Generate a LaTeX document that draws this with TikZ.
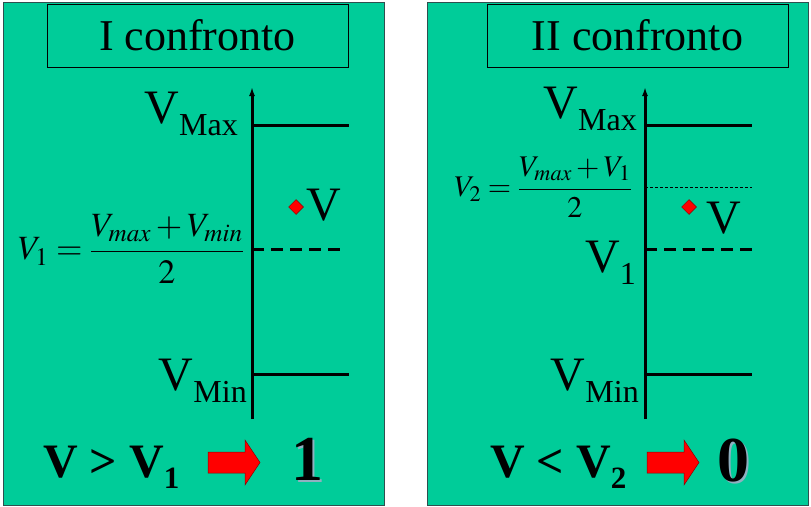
\documentclass[tikz,border=0pt]{standalone}
\usepackage{mathptmx}
\usepackage{fontspec}
\setmainfont{Liberation Serif}
\usepackage{graphicx}
\usetikzlibrary{arrows.meta,positioning,shapes.geometric}
\definecolor{Panel}{HTML}{00CC99}
\definecolor{Frame}{HTML}{2F4F4F}
\definecolor{Mark}{HTML}{FF0000}
\definecolor{MarkLine}{HTML}{8B0000}
\definecolor{Shade}{HTML}{8FB0C0}
\newcommand\vlab[1]{{\fontsize{48}{50}\selectfont V}\raisebox{-12pt}{\fontsize{32}{34}\selectfont #1}}
\newcommand\vbig[2]{V #1 V\raisebox{-11pt}{\fontsize{31}{33}\selectfont #2}}
\newcommand\shaded[1]{\rlap{\hspace{2pt}\raisebox{-2pt}{\color{Shade}#1}}#1}
\tikzset{
  panel/.style={draw=Frame,fill=Panel,line width=1pt,minimum width=381pt,minimum height=503pt,inner sep=0pt},
  heading/.style={draw=black,line width=0.8pt,minimum width=301pt,minimum height=63pt,font=\fontsize{44}{48}\selectfont},
  axis/.style={line width=3pt,-{Latex[length=9pt,width=6pt]}},
  level/.style={line width=3pt},
  midlevel/.style={line width=3pt,dash pattern=on 12pt off 7pt},
  guide/.style={line width=0.6pt,dash pattern=on 3pt off 2pt},
  marker/.style={diamond,draw=MarkLine,fill=Mark,line width=0.5pt,minimum size=15pt,inner sep=0pt},
  vlabel/.style={anchor=base east,inner sep=0pt},
  vpoint/.style={anchor=base west,inner sep=0pt,font=\fontsize{48}{50}\selectfont},
  formula/.style={anchor=east,inner sep=0pt},
  result/.style={anchor=base west,inner sep=0pt,font=\fontsize{48}{50}\selectfont\bfseries},
  bit/.style={anchor=base,inner sep=0pt,font=\fontsize{64}{66}\selectfont\bfseries},
  bigarrow/.style={draw=MarkLine,fill=Mark,line width=0.5pt}
}
\begin{document}
\begin{tikzpicture}[x=1pt,y=-1pt]
  \useasboundingbox (0,0) rectangle (811,506);
  % panels
  \node[panel] (panelA) at (193.5,253.5) {};
  \node[panel] (panelB) at (618,253.5) {};
  \node[heading] (titleA) at (197.5,35.5) {I confronto};
  \node[heading] (titleB) at (637.5,35.5) {II confronto};

  % first comparison
  \coordinate (axA0) at (252,419);
  \coordinate (axA1) at (252,87);
  \coordinate (maxA) at (252,125);
  \coordinate (maxAend) at (349,125);
  \coordinate (midA) at (252,249);
  \coordinate (midAend) at (343,249);
  \coordinate (minA) at (252,374);
  \coordinate (minAend) at (349,374);
  \draw[axis] (axA0) -- (axA1);
  \draw[level] (maxA) -- (maxAend);
  \draw[midlevel] (midA) -- (midAend);
  \draw[level] (minA) -- (minAend);
  \node[vlabel] (lmaxA) at (238,123) {\vlab{Max}};
  \node[vlabel] (lminA) at (247,390) {\vlab{Min}};
  \node[formula,font=\fontsize{34}{36}\selectfont] (fA) at (244,249)
    {$\displaystyle V_1=\frac{V_{max}+V_{min}}{2}$};
  \node[marker] (dA) at (296,207) {};
  \node[vpoint] (vA) at (306,220) {V};
  \node[result] (rA) at (43,477) {\vbig{>}{1}};
  \draw[bigarrow,shift={(208,440)}] (0,12) -- (37,12) -- (37,0) -- (52,22.5)
    -- (37,45) -- (37,33) -- (0,33) -- cycle;
  \node[bit] (bA) at (307.5,480) {\shaded{1}};

  % second comparison
  \coordinate (axB0) at (645,419);
  \coordinate (axB1) at (645,87);
  \coordinate (maxB) at (645,125);
  \coordinate (maxBend) at (752,125);
  \coordinate (qB) at (645,187);
  \coordinate (qBend) at (752,187);
  \coordinate (midB) at (645,249);
  \coordinate (midBend) at (752,249);
  \coordinate (minB) at (645,374);
  \coordinate (minBend) at (752,374);
  \draw[axis] (axB0) -- (axB1);
  \draw[level] (maxB) -- (maxBend);
  \draw[guide] (qB) -- (qBend);
  \draw[midlevel] (midB) -- (midBend);
  \draw[level] (minB) -- (minBend);
  \node[vlabel] (lmaxB) at (637,118) {\vlab{Max}};
  \node[vlabel] (l1B) at (636,272) {\vlab{1}};
  \node[vlabel] (lminB) at (639,390) {\vlab{Min}};
  \node[formula,font=\fontsize{30}{32}\selectfont] (fB) at (632,187)
    {$\displaystyle V_2=\frac{V_{max}+V_1}{2}$};
  \node[marker] (dB) at (689,207) {};
  \node[vpoint] (vB) at (706,233) {V};
  \node[result] (rB) at (490,477) {\vbig{<}{2}};
  \draw[bigarrow,shift={(647,440)}] (0,12) -- (37,12) -- (37,0) -- (52,22.5)
    -- (37,45) -- (37,33) -- (0,33) -- cycle;
  \node[bit] (bB) at (733,481) {\shaded{0}};
\end{tikzpicture}
\end{document}
